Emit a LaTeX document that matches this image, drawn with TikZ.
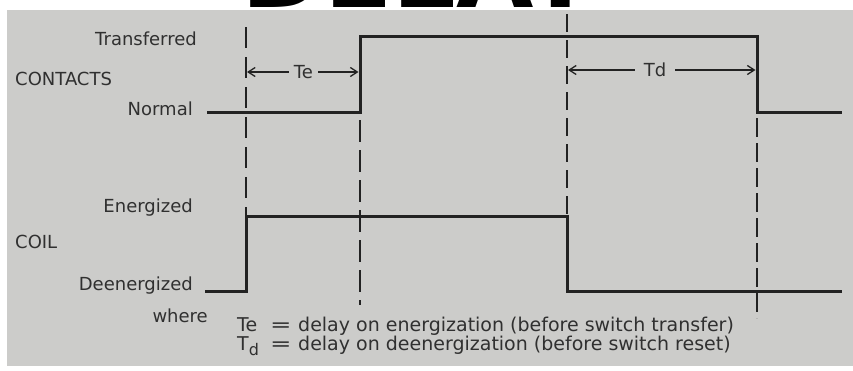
\documentclass[tikz,border=0pt]{standalone}
\usepackage{fontspec}
\setmainfont{DejaVu Sans}
\usetikzlibrary{arrows.meta}
\definecolor{bg}{RGB}{204,204,202}
\definecolor{ink}{RGB}{34,34,34}
\definecolor{txt}{RGB}{48,48,48}
\begin{document}
\begin{tikzpicture}[x=1pt,y=-1pt,
  sig/.style={draw=ink,line width=3pt,line join=miter},
  guide/.style={draw=ink,line width=1.6pt},
  lbl/.style={text=txt,font=\fontsize{18}{20}\selectfont,inner sep=0pt},
  note/.style={text=txt,font=\fontsize{19}{21}\selectfont,inner sep=0pt,anchor=base west},
  dimarrow/.style={draw=ink,line width=1.3pt,-{Straight Barb[length=7pt,width=9pt]}}]
\useasboundingbox (0,0) rectangle (853,370);
\fill[white] (0,0) rectangle (853,370);
\fill[bg] (7,10) rectangle (853,366);
% cut-off title
\begin{scope}
\clip (0,0) rectangle (853,10);
\node[font=\fontsize{100}{100}\selectfont\bfseries,anchor=base west,inner sep=0pt,text=black] (title) at (241,7.5) {DELAY};
\end{scope}
% dashed guide lines
\coordinate (g1t) at (246,27);  \coordinate (g1b) at (246,216);
\coordinate (g2t) at (360,120); \coordinate (g2b) at (360,305);
\coordinate (g3t) at (567,14);  \coordinate (g3b) at (567,216);
\coordinate (g4t) at (757,118); \coordinate (g4b) at (757,318);
\draw[guide,dash pattern=on 21pt off 9pt] (g1t) -- (g1b);
\draw[guide,dash pattern=on 22pt off 8pt] (g2t) -- (g2b);
\draw[guide,dash pattern=on 18pt off 8pt] (g3t) -- (g3b);
\draw[guide,dash pattern=on 19pt off 6pt] (g4t) -- (g4b);
% contacts signal
\coordinate (c0) at (207,112); \coordinate (c1) at (360,112);
\coordinate (c2) at (360,36);  \coordinate (c3) at (757,36);
\coordinate (c4) at (757,112); \coordinate (c5) at (842,112);
\draw[sig] (c0) -- (c1) -- (c2) -- (c3) -- (c4) -- (c5);
% coil signal
\coordinate (k0) at (205,291); \coordinate (k1) at (246,291);
\coordinate (k2) at (246,216); \coordinate (k3) at (567,216);
\coordinate (k4) at (567,291); \coordinate (k5) at (842,291);
\draw[sig] (k0) -- (k1) -- (k2) -- (k3) -- (k4) -- (k5);
% labels
\node[lbl,anchor=base east] (ltr) at (197,45) {Transferred};
\node[lbl,anchor=base west] (lco) at (15,85) {CONTACTS};
\node[lbl,anchor=base east] (lno) at (193,115.5) {Normal};
\node[lbl,anchor=base east] (len) at (193,212.5) {Energized};
\node[lbl,anchor=base west] (lcl) at (15,248.5) {COIL};
\node[lbl,anchor=base east] (lde) at (193,290) {Deenergized};
\node[lbl,anchor=base east] (lwh) at (208,322) {where};
% delay dimensions
\node[lbl,inner xsep=5pt] (te) at (303.5,72) {Te};
\coordinate (teL) at (247,72); \coordinate (teR) at (358.5,72);
\draw[dimarrow] (te) -- (teL);
\draw[dimarrow] (te) -- (teR);
\node[lbl,inner xsep=9pt] (td) at (655,70) {Td};
\coordinate (tdL) at (568,70); \coordinate (tdR) at (755.5,70);
\draw[dimarrow] (td) -- (tdL);
\draw[dimarrow] (td) -- (tdR);
% legend
\node[note] (n1s) at (237,331.5) {Te};
\node[note] (n1e) at (270,331.5) {\scalebox{1.35}[1]{=}};
\node[note] (n1t) at (298,331.5) {delay on energization (before switch transfer)};
\node[note] (n2s) at (237,350) {T\raisebox{-5pt}{\fontsize{16}{16}\selectfont d}};
\node[note] (n2e) at (270,350) {\scalebox{1.35}[1]{=}};
\node[note] (n2t) at (298,350) {delay on deenergization (before switch reset)};
\end{tikzpicture}
\end{document}
